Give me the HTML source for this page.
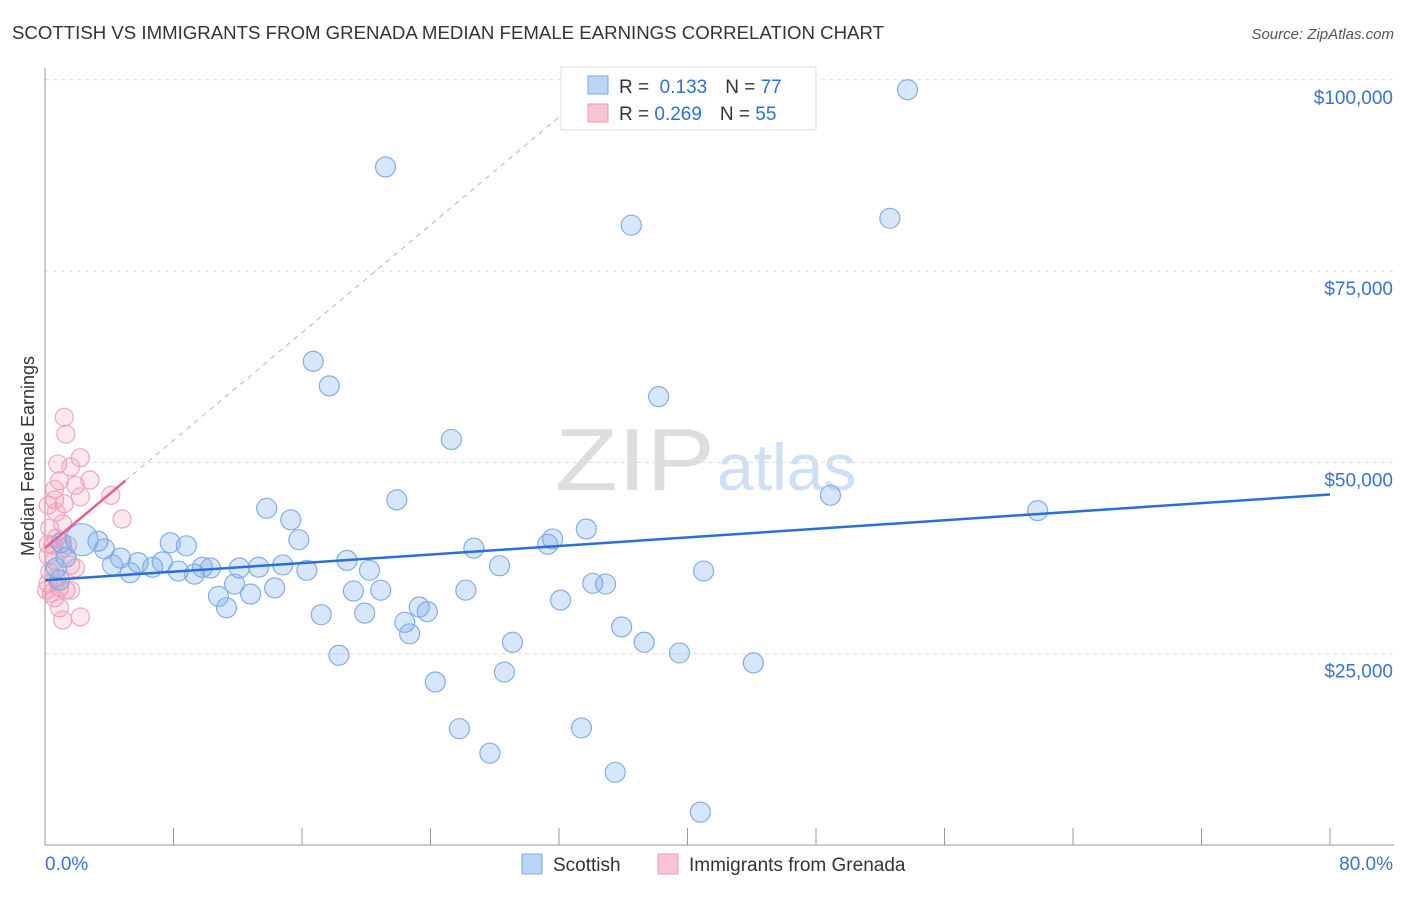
<!DOCTYPE html>
<html><head><meta charset="utf-8"><style>
body{margin:0;background:#fff;font-family:"Liberation Sans",sans-serif;}
svg text{font-family:"Liberation Sans",sans-serif;}
</style></head><body>
<svg id="chart" width="1406" height="892" xmlns="http://www.w3.org/2000/svg">
<text x="12" y="39" font-size="18" fill="#333" textLength="872" lengthAdjust="spacingAndGlyphs">SCOTTISH VS IMMIGRANTS FROM GRENADA MEDIAN FEMALE EARNINGS CORRELATION CHART</text>
<text x="1394" y="39" font-size="15" fill="#555" font-style="italic" text-anchor="end">Source: ZipAtlas.com</text>
<text x="555" y="490" font-size="88" fill="#ddd" font-family="Liberation Serif" textLength="160" lengthAdjust="spacingAndGlyphs">ZIP</text>
<text x="717" y="490" font-size="66" fill="#cfe0f3">atlas</text>
<text transform="translate(34,456) rotate(-90)" font-size="18" fill="#333" text-anchor="middle">Median Female Earnings</text>
<g id="grid"></g><g id="axes"></g><g id="trend"></g><g id="pts"></g>
<g>
<rect x="561" y="67" width="255" height="63" fill="#fff" stroke="#ddd"/>
<rect x="588" y="76" width="20" height="18" fill="#bcd4f5" stroke="#7aa8e6"/>
<rect x="588" y="104" width="20" height="18" fill="#f9c4d2" stroke="#ec9ab2"/>
<text x="619" y="93" font-size="19" fill="#333">R = <tspan fill="#2e6fd0">&#160;0.133</tspan><tspan dx="18">N = </tspan><tspan fill="#2e6fd0">77</tspan></text>
<text x="619" y="120" font-size="19" fill="#333">R = <tspan fill="#2e6fd0">0.269</tspan><tspan dx="18">N = </tspan><tspan fill="#2e6fd0">55</tspan></text>
</g>
<g>
<rect x="522" y="854" width="20" height="20" fill="#bcd4f5" stroke="#7aa8e6"/>
<text x="553" y="871" font-size="19" fill="#333">Scottish</text>
<rect x="658" y="854" width="20" height="20" fill="#f9c4d2" stroke="#ec9ab2"/>
<text x="689" y="871" font-size="19" fill="#333">Immigrants from Grenada</text>
</g>
</svg>
<script>
const yTicks=[25000,50000,75000,100000];
const yTickLabels=["$25,000","$50,000","$75,000","$100,000"];
const xEndLabels=["0.0%","80.0%"];
const scottishX=[53.7,21.2,36.5,52.6,16.7,17.7,38.2,25.3,21.9,48.9,61.8,13.8,15.3,33.7,31.6,31.3,15.8,26.7,7.8,8.8,2.3,3.3,3.7,4.7,5.8,4.2,5.3,6.7,7.3,8.3,9.3,9.8,10.3,12.1,13.3,14.8,16.3,18.8,20.2,28.3,11.8,10.8,12.8,11.3,14.3,19.2,20.9,26.2,34.1,34.9,41.0,23.3,23.8,17.2,19.9,32.1,22.4,22.7,35.9,29.1,37.3,39.5,18.3,44.1,28.6,24.3,25.8,33.4,27.7,35.5,40.8,1.0,1.3,0.7,0.9];
const scottishY=[98700,88600,81000,81900,63200,60000,58600,53000,45100,45700,43700,44000,42500,41300,40000,39300,39900,38800,39500,39100,39900,39700,38700,37500,36900,36600,35600,36300,37000,35800,35400,36300,36200,36200,36300,36600,35900,37200,35900,36500,34100,32500,32800,31000,33600,33200,33300,33300,34200,34100,35800,31100,30500,30100,30300,32000,29100,27600,28500,26500,26500,25100,24800,23800,22600,21300,15200,15300,12000,9500,4300,39500,37600,36200,34600];
const grenadaX=[1.2,1.3,2.2,0.8,1.6,2.8,0.9,1.9,0.6,4.1,2.2,0.6,1.2,0.2,0.7,4.8,1.1,0.3,0.7,0.2,1.1,0.2,0.6,1.6,1.9,0.3,0.7,0.2,0.9,1.3,0.4,0.6,0.9,1.1,2.2,1.6,0.1,0.5,1.4];
const grenadaY=[55900,53700,50600,49800,49400,47700,47600,47000,46500,45700,45500,45100,44600,44400,43500,42600,42000,41400,40100,39300,38800,37800,37200,36600,36200,35700,34900,34200,33600,33300,32900,32300,31000,29400,29800,33300,33300,39200,39200];
const scottishTrend=[34600,45800];
const grenadaTrend=[38800,47600];
const NS="http://www.w3.org/2000/svg";
const X0=45,X1=1330,YB=845,PXPER=191.3/25000;
const sx=v=>X0+(v/80)*(X1-X0);
const sy=v=>YB-v*PXPER;
function mk(tag,attrs,parent){const e=document.createElementNS(NS,tag);for(const k in attrs)e.setAttribute(k,attrs[k]);document.getElementById(parent).appendChild(e);return e;}
yTicks.forEach((t,i)=>{
 const l=mk('line',{x1:X0,x2:1394,y1:sy(t),y2:sy(t),stroke:'#ddd','stroke-dasharray':'4,4'},'grid');
 
 
 const tx=mk('text',{x:1393,y:sy(t)+24,'font-size':19,fill:'#3a72d0','text-anchor':'end'},'grid');
 tx.textContent=yTickLabels[i];
 
 
});
const ax=mk('line',{x1:X0,x2:X0,y1:68,y2:YB,stroke:'#999'},'axes');


const bx=mk('line',{x1:X0,x2:1394,y1:YB,y2:YB,stroke:'#999'},'axes');


for(let i=0;i<=10;i++){
 const t=mk('line',{x1:sx(i*8),x2:sx(i*8),y1:828,y2:YB,stroke:'#999'},'axes');
 
 
}
[[0,'start',X0],[1,'end',1393]].forEach(([i,a,x])=>{
 const t=mk('text',{x:x,y:870,'font-size':19,fill:'#3a72d0','text-anchor':a},'axes');
 t.textContent=xEndLabels[i];
 
 
});
const gs=(grenadaTrend[1]-grenadaTrend[0])/5;
const gd=mk('line',{x1:sx(5),y1:sy(grenadaTrend[1]),x2:sx(33.6),y2:sy(grenadaTrend[0]+gs*33.6),stroke:'#e8a0b8','stroke-dasharray':'5,5','stroke-width':1},'trend');


grenadaX.forEach((x,i)=>{
 const c=mk('circle',{cx:sx(x),cy:sy(grenadaY[i]),r:9,fill:'rgba(242,140,170,0.2)',stroke:'#f0a8bf','stroke-width':1.2},'pts');
 
 
});
scottishX.forEach((x,i)=>{
 const c=mk('circle',{cx:sx(x),cy:sy(scottishY[i]),r:(i==20?16:10),fill:'rgba(110,165,230,0.28)',stroke:'#82aee8','stroke-width':1.2},'pts');
 
 
});
const st=mk('line',{x1:sx(0),y1:sy(scottishTrend[0]),x2:sx(80),y2:sy(scottishTrend[1]),stroke:'#2b6fd6','stroke-width':2.5},'pts');


const gt=mk('line',{x1:sx(0),y1:sy(grenadaTrend[0]),x2:sx(5),y2:sy(grenadaTrend[1]),stroke:'#e8608a','stroke-width':2.5},'pts');


</script>
</body></html>
